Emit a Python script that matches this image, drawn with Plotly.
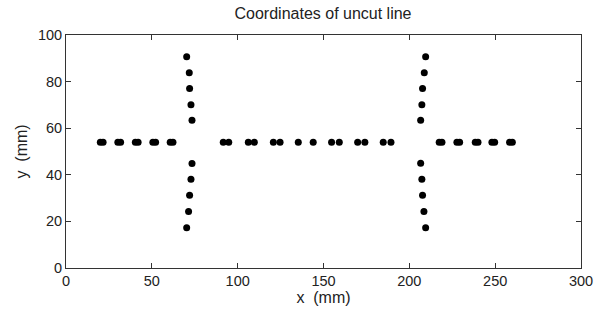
import plotly.graph_objects as go

# Horizontal cutting row (y ~ 54)
row_x = [20.0, 21.6, 30.2, 31.8, 40.4, 42.0, 50.6, 52.2, 60.7, 62.3,
         91.6, 94.8, 106.2, 109.7, 120.8, 124.7, 135.3, 144.0,
         154.7, 159.2, 169.9, 174.1, 184.8, 189.3,
         217.4, 219.0, 227.7, 229.3, 238.4, 240.0, 248.1, 249.7, 258.4, 260.0]
row_y = [54.0] * len(row_x)

# Left vertical line
left_x = [70.3, 71.8, 72.0, 72.8, 73.4, 73.4, 72.8, 72.0, 71.4, 70.3]
left_y = [90.7, 83.8, 77.0, 70.1, 63.4, 44.9, 38.1, 31.2, 24.2, 17.3]

# Right vertical line
right_x = [209.5, 208.7, 207.7, 207.3, 206.6, 206.6, 207.3, 207.7, 208.5, 209.5]
right_y = [90.7, 83.8, 77.0, 70.1, 63.4, 45.0, 38.1, 31.2, 24.2, 17.3]

xs = row_x + left_x + right_x
ys = row_y + left_y + right_y

FONT = "Liberation Sans, Arial, sans-serif"

fig = go.Figure()
fig.add_trace(go.Scatter(
    x=xs, y=ys, mode="markers",
    marker=dict(color="black", size=7, line=dict(width=0)),
    showlegend=False, hoverinfo="skip",
))

axis_common = dict(
    showgrid=False, zeroline=False, automargin=False,
    showline=True, linecolor="#333333", linewidth=1, mirror="ticks",
    ticks="inside", ticklen=5, tickcolor="#333333",
    tickfont=dict(family=FONT, size=14.5, color="#222222"),
)

fig.update_layout(
    width=595, height=320,
    margin=dict(l=66, r=14, t=35, b=52),
    paper_bgcolor="white", plot_bgcolor="white",
    font=dict(family=FONT, color="#222222"),
    hovermode=False,
    title=dict(text="Coordinates of uncut line", x=0.5429, xanchor="center",
               xref="container", yref="container", y=0.957, yanchor="middle",
               pad=dict(t=0, b=0), font=dict(size=16)),
    xaxis=dict(range=[0, 300], tickvals=[0, 50, 100, 150, 200, 250, 300],
               title=dict(text="x  (mm)", font=dict(size=16), standoff=2),
               **axis_common),
    yaxis=dict(range=[0, 100], tickvals=[0, 20, 40, 60, 80, 100],
               title=dict(text="y  (mm)", font=dict(size=16), standoff=6),
               **axis_common),
)

# remove the default page margin so the figure fills the 595x320 window exactly
fig.write_html(
    "out.html",
    config={"displayModeBar": False, "staticPlot": True},
    post_script="document.body.style.margin='0';document.body.style.overflow='hidden';",
)
